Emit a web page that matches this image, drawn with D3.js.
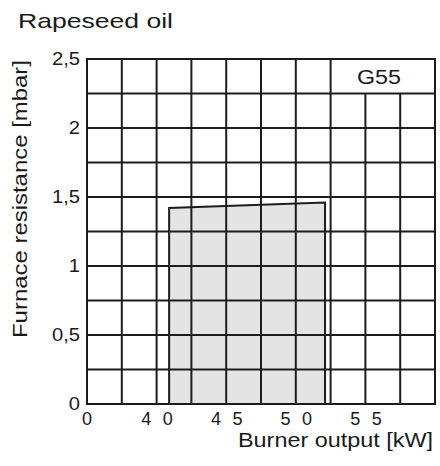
<!DOCTYPE html>
<html>
<head>
  <meta charset="utf-8">
  <title>Rapeseed oil G55</title>
  <script src="https://d3js.org/d3.v7.min.js"></script>
  <style>
    body { margin: 0; background: #fff; }
    text { font-family: "Liberation Sans", Arial, sans-serif; fill: #1a1a1a; }
  </style>
</head>
<body>
<svg id="chart" width="440" height="466"></svg>
<script>
// working field of the burner (outline of the grey area)
var fieldKW = [40.9, 40.9, 52.1, 52.1];
var fieldMbar = [0, 1.42, 1.46, 0];

// axis ticks (first x tick is the broken axis, labelled 0)
var xTickValues = [35, 40, 45, 50, 55];
var xTickLabels = ["0", "40", "45", "50", "55"];
var yTickValues = [0, 0.5, 1, 1.5, 2, 2.5];
var yTickLabels = ["0", "0,5", "1", "1,5", "2", "2,5"];

// grid lines
var gridKW = [37.5, 40, 42.5, 45, 47.5, 50, 52.5, 55, 57.5];
var gridMbar = [0.25, 0.5, 0.75, 1, 1.25, 1.5, 1.75, 2, 2.25];

var svg = d3.select("#chart");

var x = d3.scaleLinear().domain([35, 60]).range([87, 435]);
var y = d3.scaleLinear().domain([0, 2.5]).range([404, 59]);

var ink = "#1c1c1c";

// grey field
var pts = fieldKW.map(function(d, i) { return [x(d), y(fieldMbar[i])]; });
svg.append("path")
    .attr("d", "M" + pts.join("L") + "Z")
    .attr("fill", "#e4e4e4");

// horizontal grid
svg.selectAll(".hgrid")
    .data(gridMbar)
  .enter().append("line")
    .attr("class", "hgrid")
    .attr("x1", x(35)).attr("x2", x(60))
    .attr("y1", function(d) { return y(d); })
    .attr("y2", function(d) { return y(d); })
    .attr("stroke", ink).attr("stroke-width", 2);

// vertical grid, the ones under the G55 box stop at 2,25
svg.selectAll(".vgrid")
    .data(gridKW)
  .enter().append("line")
    .attr("class", "vgrid")
    .attr("x1", function(d) { return x(d); })
    .attr("x2", function(d) { return x(d); })
    .attr("y1", y(0))
    .attr("y2", function(d) { return d > 52.5 ? y(2.25) : y(2.5); })
    .attr("stroke", ink).attr("stroke-width", 2);

// outline of the field (bottom sits on the axis)
svg.append("path")
    .attr("d", "M" + pts.join("L"))
    .attr("fill", "none")
    .attr("stroke", ink).attr("stroke-width", 2);

// frame
svg.append("rect")
    .attr("x", x(35)).attr("y", y(2.5))
    .attr("width", x(60) - x(35))
    .attr("height", y(0) - y(2.5))
    .attr("fill", "none")
    .attr("stroke", ink).attr("stroke-width", 2);

// stretch text a little, the original lettering is wide
function widen(sel, k) {
  sel.each(function() {
    var w = this.getComputedTextLength();
    d3.select(this).attr("textLength", w * k).attr("lengthAdjust", "spacingAndGlyphs");
  });
}

// y tick labels
svg.selectAll(".ylab")
    .data(yTickValues)
  .enter().append("text")
    .attr("class", "ylab")
    .attr("x", 80)
    .attr("y", function(d) { return y(d); })
    .attr("dy", "0.35em")
    .attr("text-anchor", "end")
    .attr("font-size", 17.5)
    .text(function(d, i) { return yTickLabels[i]; })
    .call(widen, 1.15);

// x tick labels
svg.selectAll(".xlab")
    .data(xTickValues)
  .enter().append("text")
    .attr("class", "xlab")
    .attr("x", function(d) { return x(d) + (d == 35 ? 0 : 0.5); })
    .attr("y", 425)
    .attr("text-anchor", "middle")
    .attr("font-size", 18)
    .text(function(d, i) { return xTickLabels[i]; })
    .each(function(d) {
      if (d != 35) d3.select(this).attr("textLength", 31.5).attr("lengthAdjust", "spacing");
    });

// titles
svg.append("text")
    .attr("x", 18).attr("y", 28)
    .attr("font-size", 21)
    .attr("textLength", 155).attr("lengthAdjust", "spacingAndGlyphs")
    .text("Rapeseed oil");

svg.append("text")
    .attr("x", 238).attr("y", 447)
    .attr("font-size", 21)
    .attr("textLength", 195).attr("lengthAdjust", "spacingAndGlyphs")
    .text("Burner output [kW]");

svg.append("text")
    .attr("transform", "translate(27,338) rotate(-90)")
    .attr("font-size", 21)
    .attr("textLength", 278).attr("lengthAdjust", "spacingAndGlyphs")
    .text("Furnace resistance [mbar]");

svg.append("text")
    .attr("x", 379).attr("y", 84)
    .attr("text-anchor", "middle")
    .attr("font-size", 19.5)
    .attr("textLength", 44).attr("lengthAdjust", "spacingAndGlyphs")
    .text("G55");
</script>
</body>
</html>
